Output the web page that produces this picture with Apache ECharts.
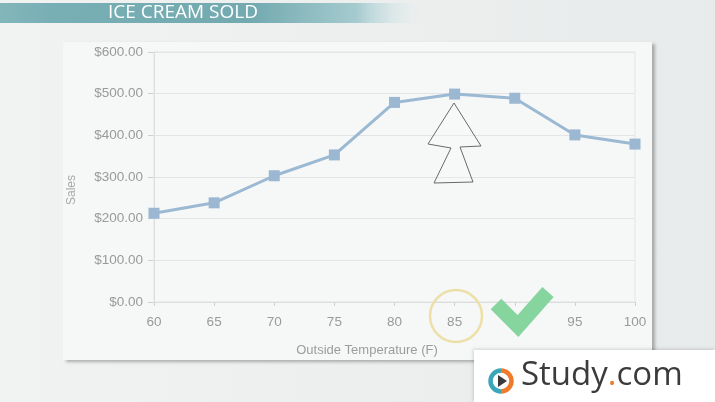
<!DOCTYPE html>
<html>
<head>
<meta charset="utf-8">
<script src="https://cdn.jsdelivr.net/npm/echarts@6/dist/echarts.min.js"></script>
<style>
html,body{margin:0;padding:0;}
body{width:715px;height:402px;background:linear-gradient(90deg,#f1f3f3 0%,#eceeee 60%,#e8ebeb 100%);}
#c{width:715px;height:402px;}
</style>
</head>
<body>
<div id="c"></div>
<script>
var temperatures = [60, 65, 70, 75, 80, 85, 90, 95, 100];
var sales = [213, 238, 303, 353, 479, 499, 489, 401, 379];
var yTicks = [0, 100, 200, 300, 400, 500, 600];
var titleText = 'ICE CREAM SOLD';
var xName = 'Outside Temperature (F)';
var yName = 'Sales';

var chart = echarts.init(document.getElementById('c'));
var pts = temperatures.map(function (t, i) { return [t, sales[i]]; });

chart.setOption({
  animation: false,
  backgroundColor: 'transparent',
  grid: { left: 154, right: 80, top: 52, bottom: 100, show: true, borderColor: '#e3e5e5', borderWidth: 1, backgroundColor: 'transparent', z: 3 },
  xAxis: {
    type: 'value', min: 60, max: 100, interval: 5,
    name: xName, nameLocation: 'middle', nameGap: 42,
    nameTextStyle: { color: '#9c9c9c', fontSize: 13, fontFamily: 'Liberation Sans, Arial', padding: [0, 55, 0, 0] },
    axisLine: { show: true, lineStyle: { color: '#d5d7d7' } },
    axisTick: { show: true, length: 4, lineStyle: { color: '#cfd1d1' } },
    axisLabel: { color: '#9a9a9a', fontSize: 13.5, margin: 13, fontFamily: 'Liberation Sans, Arial' },
    splitLine: { show: false }
  },
  yAxis: {
    type: 'value', min: yTicks[0], max: yTicks[yTicks.length - 1], interval: 100,
    name: yName, nameLocation: 'middle', nameGap: 76,
    nameTextStyle: { color: '#a8a8a8', fontSize: 12, fontFamily: 'Liberation Sans, Arial', padding: [0, 26, 0, 0] },
    axisLine: { show: true, lineStyle: { color: '#d5d7d7' } },
    axisTick: { show: true, length: 6, lineStyle: { color: '#cfd1d1' } },
    axisLabel: { color: '#9a9a9a', fontSize: 13.5, margin: 11, fontFamily: 'Liberation Sans, Arial',
      formatter: function (v) { return '$' + v.toFixed(2); } },
    splitLine: { show: true, lineStyle: { color: '#e3e5e5' } }
  },
  series: [{
    type: 'line', data: pts, symbol: 'rect', symbolSize: 11, z: 5,
    lineStyle: { color: '#9bb9d3', width: 3 },
    itemStyle: { color: '#9bb7d1' }
  }],
  graphic: [
    { type: 'rect', z: -10, shape: { x: 0, y: 3, width: 420, height: 20 },
      style: { fill: new echarts.graphic.LinearGradient(0, 0, 1, 0, [
        { offset: 0, color: '#82b6bb' }, { offset: 0.12, color: '#78afb5' },
        { offset: 0.6, color: '#72aab0' }, { offset: 0.85, color: '#a6cbcf' }, { offset: 1, color: 'rgba(220,235,236,0)' }]) } },
    { type: 'text', z: -9, left: 108, top: 2, style: { text: titleText, fill: '#ffffff', fontSize: 19, fontFamily: 'Open Sans', lineHeight: 22 } },
    { type: 'rect', z: -8, shape: { x: 63, y: 42, width: 589, height: 318 },
      style: { fill: '#f6f7f7', shadowColor: 'rgba(0,0,0,0.28)', shadowBlur: 3, shadowOffsetX: 3, shadowOffsetY: 2 } },
    { type: 'polygon', z: 20, shape: { points: [[454,103],[428,144],[451,148],[434,183],[473,182],[460,147],[481,146]] },
      style: { fill: 'rgba(255,255,255,0.15)', stroke: '#6a6a6a', lineWidth: 1 } },
    { type: 'circle', z: 20, shape: { cx: 456, cy: 316, r: 26 },
      style: { fill: 'none', stroke: '#ece0a6', lineWidth: 2.5 } },
    { type: 'polyline', z: 20, shape: { points: [[496,304],[518,326],[548,292]] },
      style: { stroke: '#86d59e', lineWidth: 15, fill: 'none', lineJoin: 'miter', lineCap: 'butt' } },
    { type: 'rect', z: 21, shape: { x: 474, y: 350, width: 241, height: 52 },
      style: { fill: '#ffffff', shadowColor: 'rgba(0,0,0,0.15)', shadowBlur: 3, shadowOffsetX: -1, shadowOffsetY: -1 } },
    { type: 'arc', z: 22, shape: { cx: 501, cy: 381, r: 10.5, startAngle: Math.PI * 0.5, endAngle: Math.PI * 1.5 },
      style: { stroke: '#3aa6b8', lineWidth: 4.5, fill: 'none' } },
    { type: 'arc', z: 22, shape: { cx: 501, cy: 381, r: 10.5, startAngle: -Math.PI * 0.5, endAngle: Math.PI * 0.5 },
      style: { stroke: '#f07a2c', lineWidth: 4.5, fill: 'none' } },
    { type: 'polygon', z: 22, shape: { points: [[498,375],[498,387],[507,381]] }, style: { fill: '#3a3a3a' } },
    { type: 'text', z: 22, left: 521, top: 359, style: {
      text: '{a|Study}{b|.}{a|com}',
      rich: { a: { fontSize: 33, fontWeight: 500, fill: '#3b3b3b', fontFamily: 'Open Sans' },
              b: { fontSize: 33, fontWeight: 500, fill: '#f07a2c', fontFamily: 'Open Sans' } } } }
  ]
});
</script>
</body>
</html>
